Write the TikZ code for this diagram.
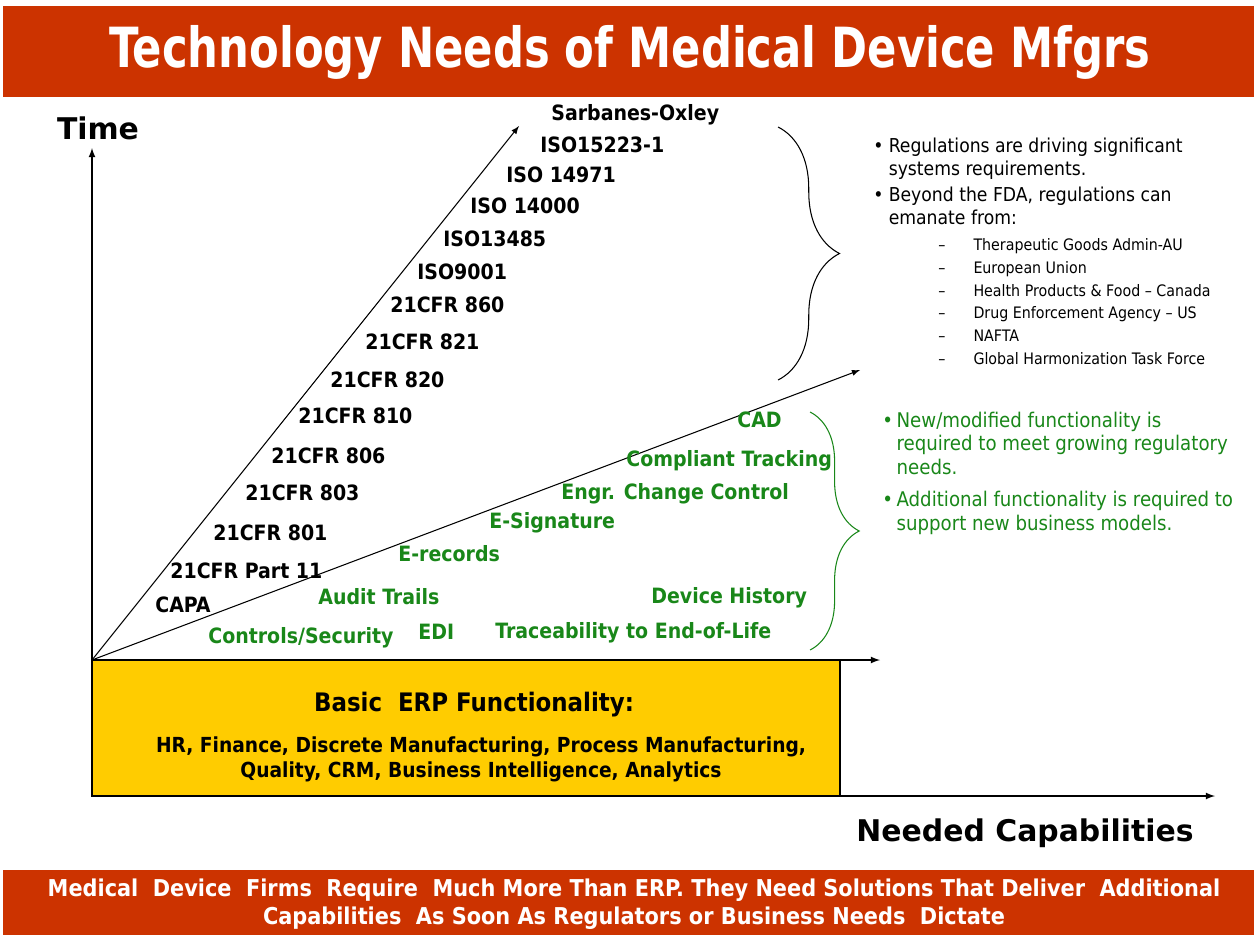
\documentclass[tikz,border=0pt]{standalone}
\usepackage{fontspec}
\setmainfont{DejaVu Sans}
\newfontfamily\narrowfont{DejaVu Sans Condensed}
\usepackage{xcolor}
\usepackage{graphicx}
\usetikzlibrary{decorations.pathreplacing}

\definecolor{bannerred}{RGB}{204,51,0}
\definecolor{erpyellow}{RGB}{255,204,0}
\definecolor{funcgreen}{RGB}{25,135,25}

\tikzset{
  reglabel/.style={anchor=west, inner sep=0pt, font=\narrowfont\bfseries\fontsize{12}{14}\selectfont},
  funclabel/.style={reglabel, text=funcgreen},
  axislabel/.style={inner sep=0pt, font=\bfseries\fontsize{17}{20}\selectfont},
  note/.style={anchor=north west, inner sep=0pt, align=left, font=\narrowfont\fontsize{10.9}{13}\selectfont},
  banner/.style={text=white, inner sep=0pt, align=center},
}

\begin{document}
\begin{tikzpicture}[x=0.02cm, y=-0.02cm]
        \useasboundingbox (0,0) rectangle (1256,936);
        % Title banner
        \fill[bannerred] (3,6) rectangle (1254,97);
        \node[banner, font=\narrowfont\bfseries\fontsize{27.4}{30}\selectfont] (title) at (630,52) {\scalebox{1}[1.15]{Technology Needs of Medical Device Mfgrs}};

        % Basic ERP box
        \draw[thick, fill=erpyellow] (92,660) rectangle (840,796);
        \node[inner sep=0pt, font=\narrowfont\bfseries\fontsize{14.5}{17}\selectfont] (erp) at (474,705) {Basic\ \ ERP Functionality:};
        \node[inner sep=0pt, align=center, font=\narrowfont\bfseries\fontsize{11.8}{14.2}\selectfont] (erplist) at (481,759) {HR, Finance, Discrete Manufacturing, Process Manufacturing,\\Quality, CRM, Business Intelligence, Analytics};

        % Axes and growth lines
        \coordinate (O) at (92,660);
        \coordinate (base) at (92,796);
        \coordinate (timetip) at (92,148);
        \coordinate (captip) at (1215,796);
        \coordinate (erptip) at (880,660);
        \coordinate (regtip) at (519,126);
        \coordinate (functip) at (860,370);
        \draw[thick, -latex] (base) -- (timetip);
        \draw[thick, -latex] (base) -- (captip);
        \draw[thick, -latex] (O) -- (erptip);
        \draw[semithick, -latex] (O) -- (regtip);
        \draw[semithick, -latex] (O) -- (functip);
        \node[axislabel] (time) at (98,128) {Time};
        \node[axislabel] (needed) at (1025,833) {Needed Capabilities};

        % Regulations along the steep line
        \node[reglabel] (sox) at (551,115) {Sarbanes-Oxley};
        \node[reglabel] (iso15223) at (540,145) {ISO15223-1};
        \node[reglabel] (iso14971) at (506,175) {ISO 14971};
        \node[reglabel] (iso14000) at (470,206) {ISO 14000};
        \node[reglabel] (iso13485) at (443,239) {ISO13485};
        \node[reglabel] (iso9001) at (417,272) {ISO9001};
        \node[reglabel] (cfr860) at (390,305) {21CFR 860};
        \node[reglabel] (cfr821) at (365,342) {21CFR 821};
        \node[reglabel] (cfr820) at (330,380) {21CFR 820};
        \node[reglabel] (cfr810) at (298,416) {21CFR 810};
        \node[reglabel] (cfr806) at (271,456) {21CFR 806};
        \node[reglabel] (cfr803) at (245,493) {21CFR 803};
        \node[reglabel] (cfr801) at (213,533) {21CFR 801};
        \node[reglabel] (part11) at (170,571) {21CFR Part 11};
        \node[reglabel] (capa) at (155,605) {CAPA};

        % Functionality along the shallow line
        \node[funclabel] (cad) at (737,420) {CAD};
        \node[funclabel] (tracking) at (626,461) {Compliant Tracking};
        \node[funclabel] (ecc) at (561,494) {Engr. Change Control};
        \node[funclabel] (esig) at (489,523) {E-Signature};
        \node[funclabel] (erec) at (398,554) {E-records};
        \node[funclabel] (audit) at (318,597) {Audit Trails};
        \node[funclabel] (dhr) at (651,598) {Device History};
        \node[funclabel] (security) at (208,638) {Controls/Security};
        \node[funclabel] (edi) at (418,632) {EDI};
        \node[funclabel] (trace) at (495,633) {Traceability to End-of-Life};

        % Braces
        \draw[semithick, decorate, decoration={brace, amplitude=35pt}] (778,127) -- (778,380);
        \draw[semithick, funcgreen, decorate, decoration={brace, amplitude=28pt}] (810,412) -- (810,650);

        % Notes on the right
        \node[note] (regnote) at (873,136) {%
          \begin{tabular}{@{}l@{\hspace{3pt}}l@{}}
          \textbullet & Regulations are driving significant\\
          & systems requirements.\\[2pt]
          \textbullet & Beyond the FDA, regulations can\\
          & emanate from:
          \end{tabular}};
        \node[note, font=\narrowfont\fontsize{9}{13}\selectfont] (agencies) at (938,234) {%
          \begin{tabular}{@{}p{20pt}@{}l@{}}
          \textendash & Therapeutic Goods Admin-AU\\
          \textendash & European Union\\
          \textendash & Health Products \& Food \textendash\ Canada\\
          \textendash & Drug Enforcement Agency \textendash\ US\\
          \textendash & NAFTA\\
          \textendash & Global Harmonization Task Force
          \end{tabular}};
        \node[note, text=funcgreen, font=\narrowfont\fontsize{11.5}{13.6}\selectfont] (funcnote) at (882,410) {%
          \begin{tabular}{@{}l@{\hspace{2pt}}l@{}}
          \textbullet & New/modified functionality is\\
          & required to meet growing regulatory\\
          & needs.\\[4.5pt]
          \textbullet & Additional functionality is required to\\
          & support new business models.
          \end{tabular}};

        % Bottom banner
        \fill[bannerred] (3,870) rectangle (1254,935);
        \node[banner, font=\narrowfont\bfseries\fontsize{13.2}{16}\selectfont] (tagline) at (634,904) {Medical\ \ Device\ \ Firms\ \ Require\ \ Much More Than ERP. They Need Solutions That Deliver\ \ Additional\\Capabilities\ \ As Soon As Regulators or Business Needs\ \ Dictate};
\end{tikzpicture}
\end{document}
